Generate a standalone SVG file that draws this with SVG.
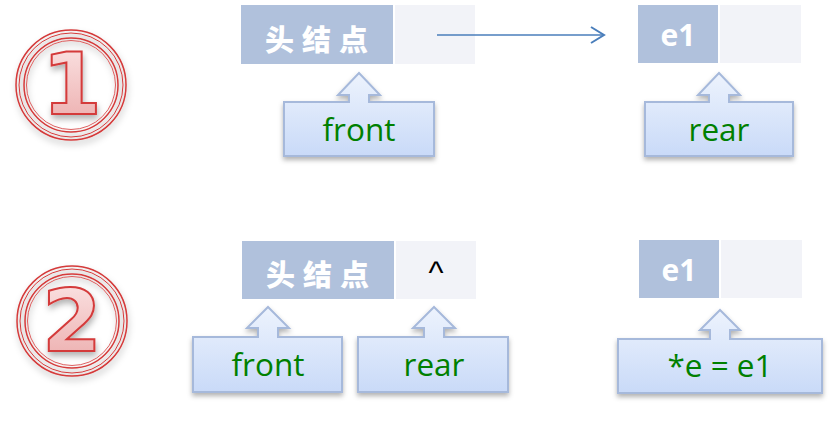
<svg xmlns="http://www.w3.org/2000/svg" width="830" height="422" viewBox="0 0 830 422">
<style>
.cellA{fill:#B0C1DC}
.cellB{fill:#F2F3F8}
.hd{font-family:"Noto Sans CJK SC","Noto Sans",sans-serif;font-weight:900;font-size:29px;fill:#FFFFFF;letter-spacing:8px}
.e1{font-family:"Open Sans","Noto Sans",sans-serif;font-weight:700;font-size:30px;fill:#FFFFFF}
.call{fill:url(#cg);stroke:#A6B9DB;stroke-width:2;filter:url(#sh)}
.lbl{font-family:"Open Sans","Noto Sans",sans-serif;font-size:31.5px;fill:#008000;text-anchor:middle}
.ringline{fill:none;stroke:#D43A3A}
.num{font-family:"DejaVu Sans",sans-serif;font-weight:700;font-size:86px;fill:url(#pg);stroke:#D43A3A;stroke-width:2;text-anchor:middle}
</style>
<defs>
<linearGradient id="cg" x1="0" y1="0" x2="0" y2="1">
<stop offset="0" stop-color="#EDF3FD"/>
<stop offset="1" stop-color="#C9DAF8"/>
</linearGradient>
<linearGradient id="pg" x1="0" y1="0" x2="0" y2="1">
<stop offset="0" stop-color="#FCE8E8"/>
<stop offset="1" stop-color="#EBA9A9"/>
</linearGradient>
<radialGradient id="rg" cx="0.5" cy="0.5" r="0.5">
<stop offset="0.8" stop-color="#F6D2D2"/>
<stop offset="1" stop-color="#E79B9B"/>
</radialGradient>
<filter id="sh" x="-20%" y="-20%" width="140%" height="150%">
<feDropShadow dx="0" dy="3" stdDeviation="2.5" flood-color="#000" flood-opacity="0.3"/>
</filter>
<filter id="sh2" x="-20%" y="-20%" width="140%" height="150%">
<feDropShadow dx="1" dy="4" stdDeviation="3" flood-color="#000" flood-opacity="0.3"/>
</filter>
<marker id="ar" markerWidth="16" markerHeight="18" refX="14" refY="9" orient="auto" markerUnits="userSpaceOnUse">
<path d="M1,1 L14,9 L1,17" fill="none" stroke="#4A7EBB" stroke-width="2"/>
</marker>
</defs>

<g id="badge1" filter="url(#sh2)">
<circle cx="71" cy="85" r="55" fill="url(#rg)" class="ringline" stroke-width="1.5"/>
<circle cx="71" cy="85" r="52" class="ringline" stroke-width="1"/>
<circle cx="71" cy="85" r="47" fill="#FFFFFF" class="ringline" stroke-width="1.5"/>
<circle cx="71" cy="85" r="44.5" class="ringline" stroke-width="0.8"/>
<text x="72" y="114" class="num">1</text>
</g>
<g id="badge2" filter="url(#sh2)">
<circle cx="72" cy="321" r="55" fill="url(#rg)" class="ringline" stroke-width="1.5"/>
<circle cx="72" cy="321" r="52" class="ringline" stroke-width="1"/>
<circle cx="72" cy="321" r="47" fill="#FFFFFF" class="ringline" stroke-width="1.5"/>
<circle cx="72" cy="321" r="44.5" class="ringline" stroke-width="0.8"/>
<text x="72" y="351" class="num">2</text>
</g>

<g id="head1">
<rect x="241" y="5" width="152" height="59" class="cellA"/>
<rect x="395" y="5" width="80" height="59" class="cellB"/>
<text x="265" y="51" class="hd">头结点</text>
</g>
<g id="e1top">
<rect x="638" y="5" width="80" height="58" class="cellA"/>
<rect x="720" y="5" width="81" height="58" class="cellB"/>
<text x="678" y="46" class="e1" text-anchor="middle">e1</text>
</g>
<g id="front1">
<path class="call" d="M284,102 H349 V95 H338 L359,73 L380,95 H369 V102 H434 V156 H284 Z"/>
<text x="359" y="141" class="lbl">front</text>
</g>
<g id="rear1">
<path class="call" d="M645,102 H709 V95 H698 L719,73 L740,95 H729 V102 H793 V156 H645 Z"/>
<text x="719" y="141" class="lbl">rear</text>
</g>

<g id="head2">
<rect x="242" y="241" width="152" height="58" class="cellA"/>
<rect x="396" y="241" width="80" height="58" class="cellB"/>
<text x="266" y="286" class="hd">头结点</text>
<text x="436" y="283" font-family="Liberation Sans, sans-serif" font-size="32" text-anchor="middle" fill="#000">^</text>
</g>
<g id="e1bottom">
<rect x="639" y="240" width="80" height="58" class="cellA"/>
<rect x="721" y="240" width="81" height="58" class="cellB"/>
<text x="679" y="281" class="e1" text-anchor="middle">e1</text>
</g>
<g id="front2">
<path class="call" d="M193,337 H258 V328 H247 L268,307 L289,328 H278 V337 H342 V392 H193 Z"/>
<text x="268" y="376" class="lbl">front</text>
</g>
<g id="rear2">
<path class="call" d="M358,337 H424 V328 H413 L434,307 L455,328 H444 V337 H508 V392 H358 Z"/>
<text x="434" y="376" class="lbl">rear</text>
</g>
<g id="ptr">
<path class="call" d="M618,339 H710 V330 H700 L720,310 L740,330 H730 V339 H822 V393 H618 Z"/>
<text x="720" y="377" class="lbl">*e = e1</text>
</g>

<g id="connectors">
<line x1="437" y1="35" x2="604" y2="35" stroke="#4A7EBB" stroke-width="1.5" marker-end="url(#ar)"/>
</g>
</svg>
